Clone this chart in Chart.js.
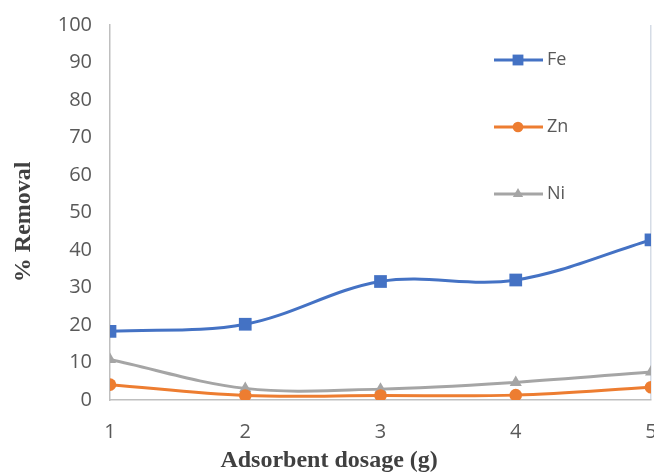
<html>
    <head>
        <title>% Removal vs adsorbent dosage</title>
        <script src="https://cdn.jsdelivr.net/npm/chart.js"></script>
        <style>
            body {
                margin: 0;
                background: white;
                overflow: hidden;
            }
        </style>
    </head>
    <body>
        <canvas id="chart" width="654" height="472"></canvas>
        <script>
            // values
            const dosage = [1, 2, 3, 4, 5];
            const fe = [18.3, 20.2, 31.6, 32.0, 42.7];
            const zn = [4.1, 1.2, 1.2, 1.3, 3.4];
            const ni = [10.8, 3.1, 2.9, 4.7, 7.5];
            const yTicks = [0, 10, 20, 30, 40, 50, 60, 70, 80, 90, 100];
            const xTitle = 'Adsorbent dosage (g)';
            const yTitle = '% Removal';

            const tickFont = { family: 'Open Sans', size: 20 };
            const titleCss = 'bold 24px "Liberation Serif"';

            // legend drawn inside the plot, stacked with wide gaps like the original
            const innerLegend = {
                id: 'innerLegend',
                afterDraw(chart) {
                    const ctx = chart.ctx;
                    const area = chart.chartArea;
                    const x0 = area.right - 157;
                    chart.data.datasets.forEach((ds, i) => {
                        const y = area.top + 35 + i * 67;
                        ctx.save();
                        ctx.strokeStyle = ds.borderColor;
                        ctx.lineWidth = 3;
                        ctx.beginPath();
                        ctx.moveTo(x0, y);
                        ctx.lineTo(x0 + 49, y);
                        ctx.stroke();
                        ctx.fillStyle = ds.borderColor;
                        Chart.helpers.drawPoint(ctx, {
                            pointStyle: ds.pointStyle,
                            radius: ds.pointRadius * 0.85,
                            rotation: 0,
                            borderWidth: 0
                        }, x0 + 24, y);
                        ctx.fillStyle = '#595959';
                        ctx.font = '18px "Open Sans"';
                        ctx.textBaseline = 'middle';
                        ctx.fillText(ds.label, x0 + 53, y);
                        ctx.restore();
                    });
                }
            };

            // axis titles sit a little off-centre in the original, so they are drawn here
            const axisTitles = {
                id: 'axisTitles',
                afterDraw(chart) {
                    const ctx = chart.ctx;
                    const area = chart.chartArea;
                    ctx.save();
                    ctx.font = titleCss;
                    ctx.fillStyle = '#404040';
                    ctx.textAlign = 'center';
                    ctx.textBaseline = 'middle';
                    ctx.fillText(xTitle, area.left + (area.right - area.left) * 0.405, chart.height - 11);
                    ctx.translate(24, area.top + (area.bottom - area.top) * 0.525);
                    ctx.rotate(-Math.PI / 2);
                    ctx.fillText(yTitle, 0, 0);
                    ctx.restore();
                }
            };

            function series(label, values, color, style, radius) {
                return {
                    label: label,
                    data: values.map((v, i) => ({ x: dosage[i], y: v })),
                    borderColor: color,
                    backgroundColor: color,
                    pointBackgroundColor: color,
                    pointBorderWidth: 0,
                    pointStyle: style,
                    pointRadius: radius,
                    borderWidth: 3,
                    tension: 0.35
                };
            }

            const data = {
                datasets: [
                    series('Fe', fe, '#4472C4', 'rect', 9),
                    series('Zn', zn, '#ED7D31', 'circle', 6.3),
                    series('Ni', ni, '#A5A5A5', 'triangle', 7)
                ]
            };

            const config = {
                type: 'line',
                data: data,
                plugins: [innerLegend, axisTitles],
                options: {
                    responsive: false,
                    animation: false,
                    layout: {
                        autoPadding: false,
                        padding: { top: 25, right: 3, left: 0, bottom: 0 }
                    },
                    plugins: {
                        legend: { display: false },
                        tooltip: { enabled: false }
                    },
                    scales: {
                        x: {
                            type: 'linear',
                            min: 1,
                            max: 5,
                            afterBuildTicks: s => { s.ticks = dosage.map(v => ({ value: v })); },
                            afterFit: s => { s.height = 72; s.paddingRight = 0; s.paddingLeft = 0; },
                            ticks: {
                                font: tickFont,
                                color: '#595959',
                                padding: 20,
                                maxRotation: 0
                            },
                            grid: {
                                drawTicks: false,
                                color: ctx => ctx.tick && ctx.tick.value === 5 ? '#D5DCE6' : 'rgba(0,0,0,0)',
                                lineWidth: 1.5
                            },
                            border: { color: '#BFBFBF', width: 1.5 }
                        },
                        y: {
                            min: 0,
                            max: 100,
                            afterBuildTicks: s => { s.ticks = yTicks.map(v => ({ value: v })); },
                            afterFit: s => { s.width = 110; s.paddingTop = 0; s.paddingBottom = 0; },
                            ticks: {
                                font: tickFont,
                                color: '#595959',
                                padding: 18
                            },
                            grid: { display: false, drawTicks: false },
                            border: { color: '#BFBFBF', width: 1.5 }
                        }
                    }
                }
            };

            const myChart = new Chart(document.getElementById('chart'), config);
        </script>
    </body>
</html>
